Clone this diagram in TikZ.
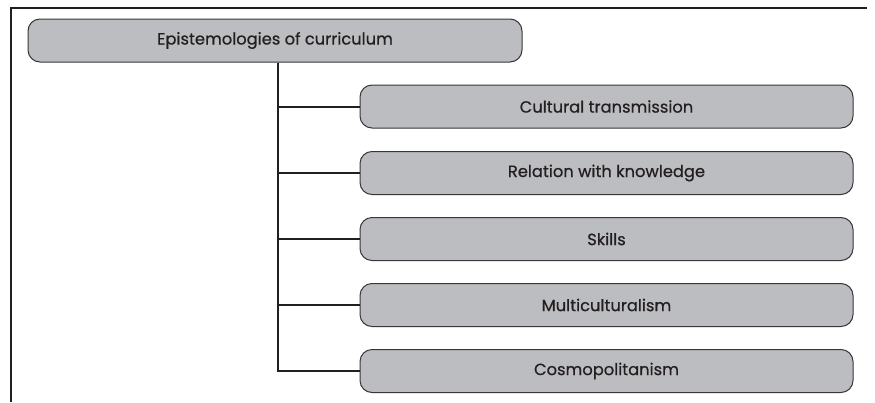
\documentclass[tikz,border=0pt]{standalone}
\usepackage{fontspec}
\setmainfont{Poppins}
\newfontfamily\lblfont{Poppins}[FakeBold=0.6]
\definecolor{boxfill}{HTML}{BCBDC0}
\definecolor{ink}{HTML}{231F20}
\definecolor{edge}{HTML}{3A3637}
\begin{document}
\begin{tikzpicture}[x=1pt,y=-1pt,
  box/.style={draw=edge,line width=1pt,fill=boxfill,rounded corners=12pt,
    minimum width=494pt,minimum height=43pt,inner sep=0pt,
    font=\lblfont\fontsize{16.3}{19}\selectfont,text=ink},
  conn/.style={draw=ink,line width=2pt},
  frame/.style={draw=ink,line width=1.2pt}]
\useasboundingbox (0,0) rectangle (875,402);
\draw[frame] (11,402) -- (11,8) -- (867,8);
\node[box] (top) at (275,40.5) {Epistemologies of curriculum};
\node[box,minimum width=493pt] (c1) at (606.5,106.5) {Cultural transmission};
\node[box,minimum width=493pt] (c2) at (606.5,173) {Relation with knowledge};
\node[box,minimum width=493pt] (c3) at (606.5,239) {Skills};
\node[box,minimum width=493pt] (c4) at (606.5,305) {Multiculturalism};
\node[box,minimum width=493pt] (c5) at (606.5,371) {Cosmopolitanism};
\coordinate (tk) at (278,0);
\foreach \c in {c1,c2,c3,c4,c5}{
  \draw[conn] (top.south -| tk) |- (\c.west);
}
\end{tikzpicture}
\end{document}
